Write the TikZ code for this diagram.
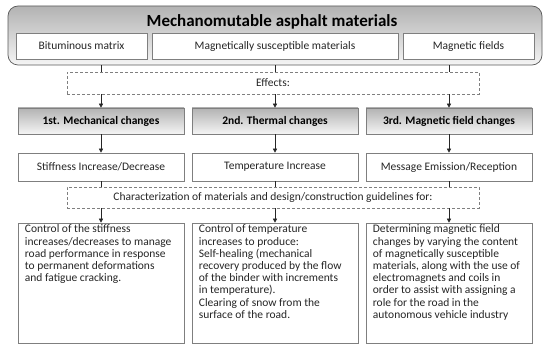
\documentclass[tikz,border=0pt]{standalone}
\usepackage{fontspec}
\setmainfont{Carlito}
\usetikzlibrary{arrows.meta}
\definecolor{bord}{HTML}{7F7F7F}
\definecolor{txt}{HTML}{262626}
\tikzset{
  plainbox/.style={draw=bord, line width=0.6pt, fill=white, inner sep=0pt, text=txt, font=\fontsize{11.5}{13}\selectfont},
  dashbox/.style={draw=bord, dashed, dash pattern=on 3pt off 2pt, line width=0.6pt, inner sep=0pt, text=txt, font=\fontsize{11.5}{13}\selectfont},
  headbox/.style={draw=bord, line width=0.6pt, top color=gray!60, bottom color=gray!8, inner sep=0pt, text=black, font=\fontsize{11.5}{13}\selectfont\bfseries},
  outerbox/.style={draw=gray!70!black, line width=0.7pt, rounded corners=10pt, top color=gray!60, bottom color=gray!8, inner sep=0pt},
  bodytext/.style={anchor=north west, align=left, inner sep=0pt, text=txt, font=\fontsize{11.5}{12.2}\selectfont},
  conn/.style={draw=txt, line width=0.6pt},
  arr/.style={conn, -{Triangle[length=4pt, width=4pt]}}
}
\begin{document}
\begin{tikzpicture}[x=1pt, y=-1pt]
\useasboundingbox (0,0) rectangle (550,350);
% top container
\node[outerbox, minimum width=534pt, minimum height=59pt] (outer) at (275,35.5) {};
\node[inner sep=0pt, font=\fontsize{17}{18}\selectfont\bfseries] (title) at (272,22) {Mechanomutable asphalt materials};
\node[plainbox, minimum width=131pt, minimum height=26pt] (s1) at (81.5,46) {Bituminous matrix};
\node[plainbox, minimum width=246pt, minimum height=26pt] (s2) at (275,46) {Magnetically susceptible materials};
\node[plainbox, minimum width=131pt, minimum height=26pt] (s3) at (468.5,46) {Magnetic fields};
% effects
\node[dashbox, minimum width=412pt, minimum height=22pt] (eff) at (273,83) {Effects:};
% headers
\node[headbox, minimum width=166pt, minimum height=26pt] (h1) at (101,121) {1st. Mechanical changes};
\node[headbox, minimum width=166pt, minimum height=26pt] (h2) at (275,121) {2nd. Thermal changes};
\node[headbox, minimum width=166pt, minimum height=26pt] (h3) at (449,121) {3rd. Magnetic field changes};
% changes
\node[plainbox, minimum width=166pt, minimum height=28pt] (c1) at (101,167) {Stiffness Increase/Decrease};
\node[plainbox, minimum width=166pt, minimum height=28pt] (c2) at (275,167) {Temperature Increase};
\node[plainbox, minimum width=166pt, minimum height=28pt] (c3) at (449,167) {Message Emission/Reception};
% characterization
\node[dashbox, minimum width=412pt, minimum height=21pt] (chr) at (273,197.5) {Characterization of materials and design/construction guidelines for:};
% bottom boxes
\node[plainbox, minimum width=166pt, minimum height=120pt] (b1) at (101,283) {};
\node[plainbox, minimum width=166pt, minimum height=120pt] (b2) at (275,283) {};
\node[plainbox, minimum width=166pt, minimum height=120pt] (b3) at (449,283) {};
\node[bodytext] (t1) at ([xshift=7pt, yshift=-2pt]b1.north west) {Control of the stiffness\\increases/decreases to manage\\road performance in response\\to permanent deformations\\and fatigue cracking.};
\node[bodytext] (t2) at ([xshift=7pt, yshift=-2pt]b2.north west) {Control of temperature\\increases to produce:\\Self-healing (mechanical\\recovery produced by the flow\\of the binder with increments\\in temperature).\\Clearing of snow from the\\surface of the road.};
\node[bodytext] (t3) at ([xshift=7pt, yshift=-2pt]b3.north west) {Determining magnetic field\\changes by varying the content\\of magnetically susceptible\\materials, along with the use of\\electromagnets and coils in\\order to assist with assigning a\\role for the road in the\\autonomous vehicle industry};
% connectors
\foreach \h/\c/\b in {h1/c1/b1, h2/c2/b2, h3/c3/b3}{
  \draw[conn] (outer.south -| \h.north) -- (eff.north -| \h.north);
  \draw[arr] (eff.south -| \h.north) -- (\h.north);
  \draw[arr] (\h.south) -- (\c.north);
  \draw[conn] (\c.south) -- (chr.north -| \c.south);
  \draw[arr] (chr.south -| \b.north) -- (\b.north);
}
\end{tikzpicture}
\end{document}
